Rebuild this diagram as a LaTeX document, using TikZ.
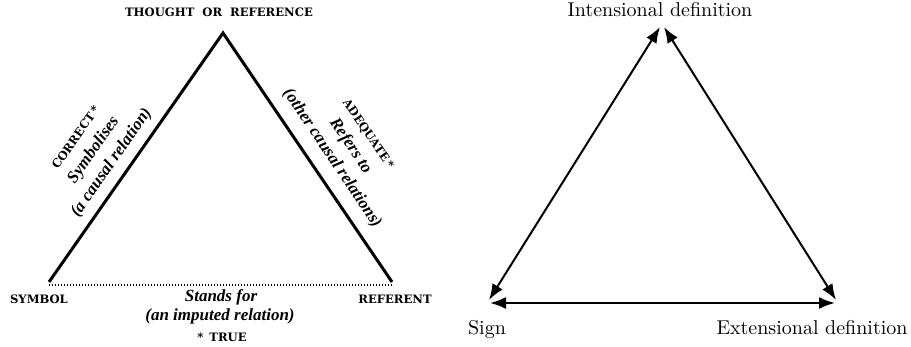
\documentclass[tikz,border=0pt]{standalone}
\usepackage{fontspec}
\usetikzlibrary{arrows.meta}
\newfontfamily\capsfamily{DejaVu Serif}[UprightFont=* Bold]
\newfontfamily\labitfamily{Liberation Serif}[UprightFont=* Bold Italic]
\newcommand\capsfont{\capsfamily\fontsize{5.8}{7}\selectfont}
\newcommand\itlabfont{\labitfamily\fontsize{8.5}{11}\selectfont}
\tikzset{
  caps/.style={font=\capsfont, inner sep=0pt},
  itlab/.style={font=\itlabfont, inner sep=0pt},
  sidelab/.style={font=\itlabfont, inner sep=0pt, align=center},
  lab/.style={font=\fontsize{10}{12}\selectfont, inner sep=0pt},
  side/.style={line width=1.5pt, line join=miter, line cap=butt},
  dots/.style={line width=0.6pt, dash pattern=on 0.6pt off 0.9pt},
  dbl/.style={line width=1pt, {Latex[length=8pt,width=6pt]}-{Latex[length=8pt,width=6pt]}}
}
\begin{document}
\begin{tikzpicture}[x=0.5pt,y=-0.5pt]
\useasboundingbox (0,0) rectangle (911,347);
% ---------- left: Ogden-Richards triangle ----------
\coordinate (apex) at (223,33);
\coordinate (sym) at (49,282);
\coordinate (ref) at (392,282);
\coordinate (symd) at (49,285);
\coordinate (refd) at (392,285);
\draw[side] (sym) -- (apex) -- (ref);
\draw[dots] (symd) -- (refd);
\node[caps, anchor=base] (thought) at (219,16.5) {THOUGHT\hspace{4pt}OR\hspace{4pt}REFERENCE};
\node[caps, anchor=base] (symbol) at (39,304) {SYMBOL};
\node[caps, anchor=base] (referent) at (395,304) {REFERENT};
\node[itlab, anchor=base] (stands) at (221,302) {Stands for};
\node[itlab, anchor=base] (imputed) at (220,321) {(an imputed relation)};
\node[caps, anchor=base] (true) at (222,341.5) {*\hspace{3pt}TRUE};
\node[sidelab, rotate=55] (leftlab) at (95,151)
  {{\capsfont CORRECT\,*}\\Symbolises\\(a causal relation)};
\node[sidelab, rotate=-56] (rightlab) at (349,147)
  {{\capsfont ADEQUATE\,*}\\Refers to\\(other causal relations)};
% ---------- right: definition triangle ----------
\coordinate (topL) at (660,27);
\coordinate (topR) at (664,27);
\coordinate (sA) at (489,300);
\coordinate (sB) at (490,303);
\coordinate (eA) at (836,300);
\coordinate (eB) at (835,303);
\draw[dbl] (sA) -- (topL);
\draw[dbl] (topR) -- (eA);
\draw[dbl] (sB) -- (eB);
\node[lab, anchor=base] (intens) at (660,17) {Intensional definition};
\node[lab, anchor=base] (sign) at (487,335) {Sign};
\node[lab, anchor=base] (extens) at (812,335) {Extensional definition};
\end{tikzpicture}
\end{document}
